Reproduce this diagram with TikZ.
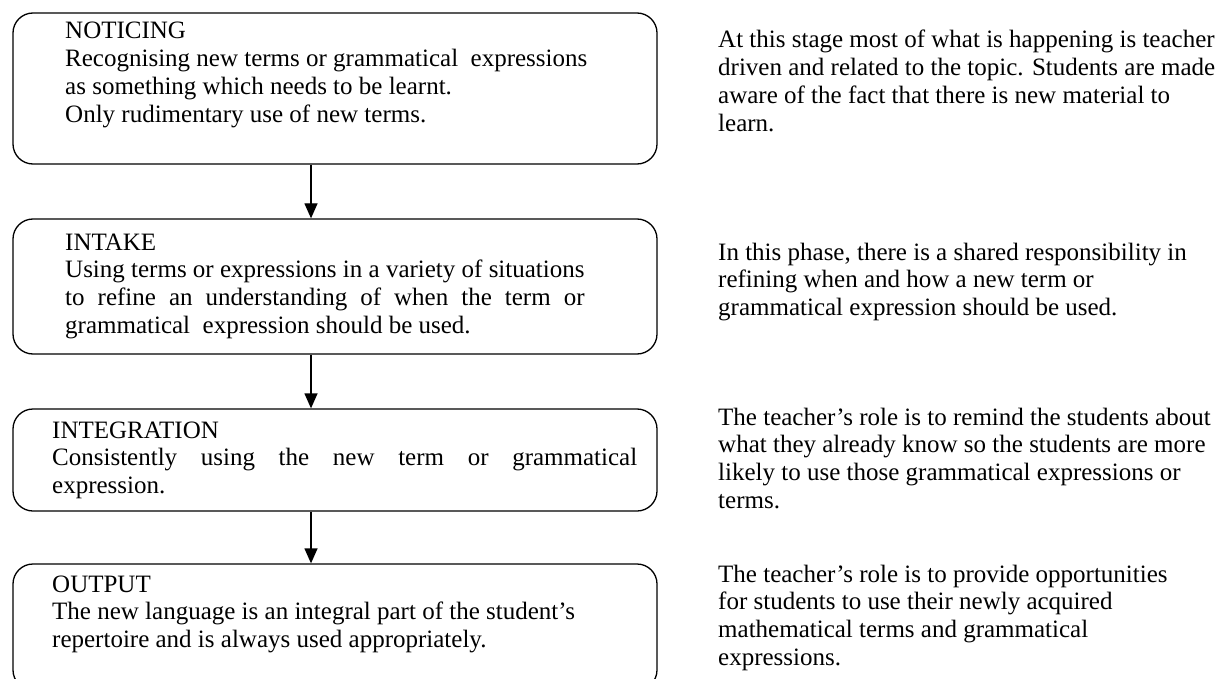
\documentclass[tikz,border=0pt]{standalone}
\usepackage{fontspec}
\setmainfont{Liberation Serif}
\usetikzlibrary{arrows.meta}
\newlength\lineW
\begin{document}
\begin{tikzpicture}[x=1pt,y=-1pt,
  box/.style={draw, line width=1.3pt, rounded corners=20pt, minimum width=644pt, inner sep=0pt},
  txt/.style={anchor=base west, inner sep=0pt, font=\fontsize{25}{27.7}\selectfont},
  arr/.style={-{Triangle[length=15pt,width=13pt]}, line width=1.3pt}]
\useasboundingbox (0,0) rectangle (1228,679);
\fill[white] (0,0) rectangle (1228,679);
\clip (0,0) rectangle (1228,679);
% boxes
\node[box, minimum height=151pt] (b1) at (335,88.5) {};
\node[box, minimum height=135pt] (b2) at (335,286.5) {};
\node[box, minimum height=102pt] (b3) at (335,460) {};
\node[box, minimum height=126pt] (b4) at (335,627) {};
% arrows
\coordinate (ax) at (311,0);
\draw[arr] (b1.south -| ax) -- (b2.north -| ax);
\draw[arr] (b2.south -| ax) -- (b3.north -| ax);
\draw[arr] (b3.south -| ax) -- (b4.north -| ax);
% box texts
\node[txt] (t1) at (65,39) {\parbox[t]{600pt}{NOTICING\\Recognising new terms or grammatical\ \ expressions\\as something which needs to be learnt.\\Only rudimentary use of new terms.}};
\node[txt] (t2) at (65,250) {\parbox[t]{600pt}{\settowidth{\lineW}{Using terms or expressions in a variety of situations}INTAKE\\Using terms or expressions in a variety of situations\\\makebox[\lineW][s]{to refine an understanding of when the term or}\\grammatical\ \ expression should be used.}};
\node[txt] (t3) at (52,438) {\parbox[t]{600pt}{INTEGRATION\\\makebox[585pt][s]{Consistently using the new term or grammatical}\\expression.}};
\node[txt] (t4) at (52,592) {\parbox[t]{600pt}{OUTPUT\\The new language is an integral part of the student’s\\repertoire and is always used appropriately.}};
% right texts
\node[txt] (r1) at (718,48) {\parbox[t]{520pt}{\raggedright At this stage most of what is happening is teacher\\driven and related to the topic. Students are made\\aware of the fact that there is new material to\\learn.}};
\node[txt] (r2) at (718,260) {\parbox[t]{520pt}{\raggedright In this phase, there is a shared responsibility in\\refining when and how a new term or\\grammatical expression should be used.}};
\node[txt] (r3) at (718,425) {\parbox[t]{520pt}{\raggedright The teacher’s role is to remind the students about\\what they already know so the students are more\\likely to use those grammatical expressions or\\terms.}};
\node[txt] (r4) at (718,582) {\parbox[t]{520pt}{\raggedright The teacher’s role is to provide opportunities\\for students to use their newly acquired\\mathematical terms and grammatical\\expressions.}};
\end{tikzpicture}
\end{document}
